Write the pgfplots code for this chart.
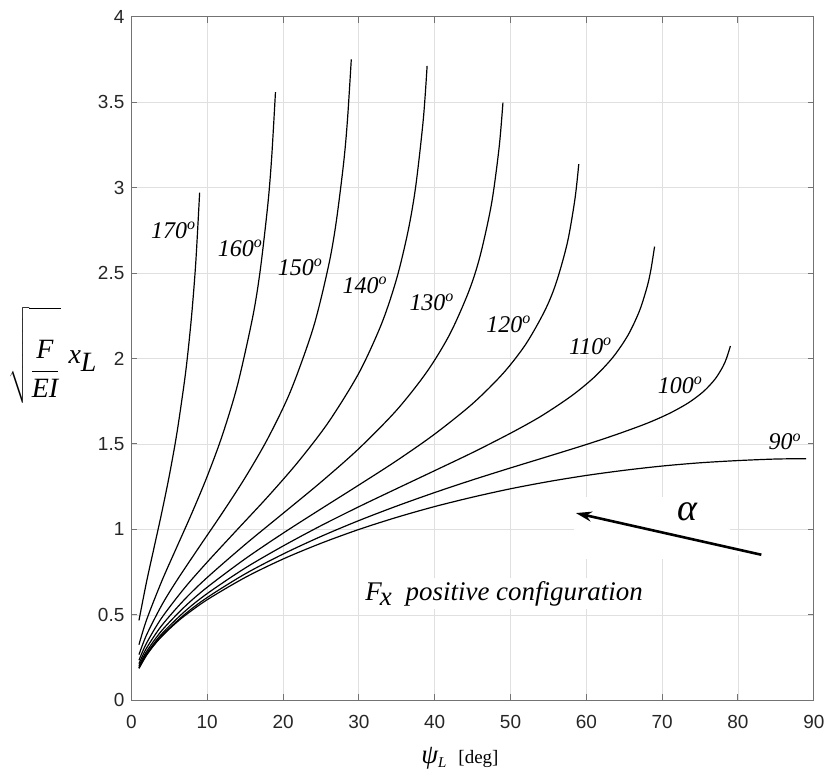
\documentclass[border=0pt]{standalone}
\usepackage{pgfplots}
\pgfplotsset{compat=1.18}
\usepackage{fontspec}
\setmainfont{Liberation Serif}
\setsansfont{Liberation Sans}
\usetikzlibrary{arrows.meta}
\newcommand{\dg}[1]{#1\textsuperscript{o}}
\pgfplotsset{crv/.style={black, solid, line width=0.6pt, smooth, mark=none}}
\begin{document}
\begin{tikzpicture}
\begin{axis}[
  at={(0,0)}, anchor=south west,
  width=342pt, height=342.65pt, scale only axis,
  xmin=0, xmax=90, ymin=0, ymax=4,
  xtick={0,10,...,90}, ytick={0,0.5,...,4},
  grid=major, grid style={line width=0.4pt, color=black!12},
  axis line style={black!55, line width=0.5pt},
  tick style={black!55, line width=0.5pt},
  major tick length=3pt, tick align=inside,
  ticklabel style={font=\sffamily\fontsize{9.5}{11}\selectfont, text=black!85},
  xticklabel style={yshift=-4pt},
  /pgf/number format/assume math mode=true,
]
% alpha = 170
\addplot[crv] coordinates {(1,0.468)(2,0.694)(3,0.896)(4,1.098)(5,1.315)(6,1.563)(7,1.867)(7.5,2.054)(8,2.280)(8.5,2.568)(9,2.971)};
% alpha = 160
\addplot[crv] coordinates {(1,0.326)(2,0.471)(4,0.697)(6,0.898)(8,1.098)(10,1.311)(12,1.552)(14,1.846)(16,2.243)(17,2.519)(18,2.904)(18.5,3.176)(19,3.558)};
% alpha = 150
\addplot[crv] coordinates {(1,0.268)(2,0.383)(4,0.557)(6,0.702)(9,0.901)(12,1.097)(15,1.303)(18,1.533)(21,1.810)(24,2.182)(26,2.542)(27,2.795)(28,3.148)(28.5,3.398)(29,3.750)};
% alpha = 140
\addplot[crv] coordinates {(1,0.235)(2,0.335)(4,0.483)(7,0.657)(10,0.809)(14,1.001)(18,1.192)(22,1.396)(26,1.628)(30,1.915)(33,2.204)(35,2.470)(36.5,2.748)(37.5,3.008)(38.5,3.400)(39,3.712)};
% alpha = 130
\addplot[crv] coordinates {(1,0.215)(2,0.306)(4,0.438)(7,0.590)(10,0.719)(15,0.912)(20,1.094)(25,1.277)(30,1.473)(35,1.699)(39,1.924)(42,2.143)(44.5,2.393)(46,2.602)(47.5,2.907)(48.5,3.236)(49,3.497)};
% alpha = 120
\addplot[crv] coordinates {(1,0.202)(2,0.286)(4,0.408)(7,0.547)(10,0.662)(15,0.828)(20,0.978)(25,1.120)(30,1.260)(35,1.403)(40,1.558)(45,1.736)(49,1.912)(52,2.083)(54.5,2.278)(56,2.440)(57.5,2.678)(58.5,2.934)(59,3.137)};
% alpha = 110
\addplot[crv] coordinates {(1,0.193)(2,0.274)(4,0.389)(7,0.519)(10,0.625)(15,0.774)(20,0.903)(25,1.022)(30,1.133)(35,1.239)(40,1.344)(45,1.450)(50,1.563)(54,1.662)(58,1.780)(61,1.889)(63.5,2.007)(65.5,2.137)(67,2.278)(68,2.417)(68.5,2.516)(69,2.655)};
% alpha = 100
\addplot[crv] coordinates {(1,0.189)(2,0.267)(4,0.378)(7,0.502)(10,0.602)(15,0.740)(20,0.856)(25,0.959)(30,1.052)(35,1.137)(40,1.216)(45,1.290)(50,1.360)(55,1.428)(60,1.497)(64,1.556)(68,1.621)(71,1.680)(73.5,1.742)(75.5,1.809)(77,1.881)(78,1.952)(78.5,2.003)(79,2.073)};
% alpha = 90
\addplot[crv] coordinates {(1,0.187)(2,0.264)(3,0.324)(4,0.374)(5.5,0.438)(7,0.494)(10,0.589)(15,0.719)(20,0.827)(25,0.919)(30,1.000)(35,1.071)(40,1.134)(45,1.189)(50,1.238)(55,1.280)(60,1.316)(65,1.346)(70,1.371)(75,1.390)(80,1.403)(85,1.412)(89,1.414)};

% curve labels
\begin{scope}[every node/.style={font=\fontsize{12}{14}\selectfont\itshape, inner sep=0pt}]
\node at (axis cs:5.57,2.749) {\dg{170}};
\node at (axis cs:14.38,2.644) {\dg{160}};
\node at (axis cs:22.28,2.533) {\dg{150}};
\node at (axis cs:30.83,2.428) {\dg{140}};
\node at (axis cs:39.64,2.329) {\dg{130}};
\node at (axis cs:49.78,2.200) {\dg{120}};
\node at (axis cs:60.57,2.072) {\dg{110}};
\node at (axis cs:72.41,1.844) {\dg{100}};
\node at (axis cs:86.22,1.512) {\dg{90}};
\end{scope}

% alpha arrow with white background
\fill[white] (axis cs:58.4,0.83) rectangle (axis cs:79,1.19);
\draw[white, line width=5pt] (axis cs:83.08,0.852) -- (axis cs:58.4,1.098);
\draw[-{Stealth[length=8pt,width=5pt]}, line width=1.3pt] (axis cs:83.08,0.852) -- (axis cs:58.62,1.096);
\node[font=\fontsize{19}{21}\selectfont\itshape, inner sep=1pt] at (axis cs:73.4,1.103) {α};

% configuration text
\node[anchor=base west, fill=white, inner sep=1.5pt, font=\fontsize{13.5}{15}\selectfont\itshape] at (axis cs:30.4,0.585)
  {F\kern-1pt\raisebox{-2.5pt}{x}\hspace{7pt}positive configuration};
\end{axis}

% y label
\node[anchor=base west, font=\fontsize{14}{16}\selectfont, inner sep=0pt] at (-61.85pt,169pt)
  {\raisebox{-7.5pt}{$\sqrt{\rule[-9.5pt]{0pt}{41pt}\displaystyle\frac{\textit{F}}{\textit{EI}}}$}\hspace{4pt}$\textit{x}_{\textit{L}}$};
% x label
\node[anchor=base, inner sep=0pt] at (164.65pt,-31.5pt)
  {{\fontsize{13.5}{14}\selectfont\itshape ψ}{\fontsize{7.5}{8}\selectfont\itshape \raisebox{-2pt}{L}}\hspace{6pt}{\fontsize{9.5}{11}\selectfont [deg]}};

\path[use as bounding box] (-65.85pt,-39.5pt) rectangle (349.65pt,351pt);
\end{tikzpicture}
\end{document}
